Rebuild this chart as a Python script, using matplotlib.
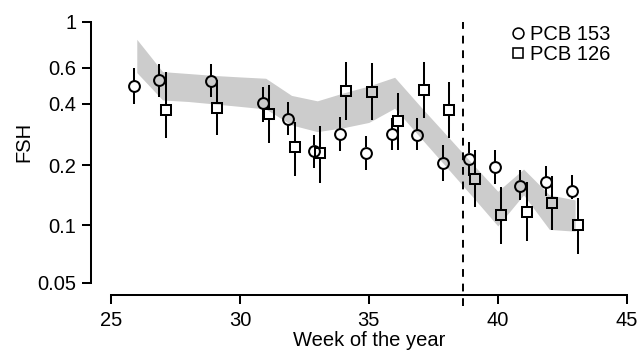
import numpy as np
import matplotlib
matplotlib.use("Agg")
import matplotlib.pyplot as plt
from matplotlib.lines import Line2D

plt.rcParams['font.family'] = ['Liberation Sans', 'DejaVu Sans']

# band (weeks 26-43)
band_weeks = [26, 27, 28, 29, 30, 31, 32, 33, 34, 35, 36, 37, 38, 39, 40, 41, 42, 43]
band_hi = [0.822, 0.573, 0.561, 0.549, 0.540, 0.532, 0.439, 0.413, 0.451, 0.488,
           0.538, 0.388, 0.282, 0.204, 0.148, 0.191, 0.142, 0.134]
band_lo = [0.567, 0.417, 0.410, 0.399, 0.388, 0.377, 0.315, 0.292, 0.305, 0.324,
           0.380, 0.273, 0.196, 0.140, 0.099, 0.142, 0.095, 0.093]

# PCB 153 (circles)
weeks153 = [26, 27, 29, 31, 32, 33, 34, 35, 36, 37, 38, 39, 40, 41, 42, 43]
pcb153 = [0.487, 0.520, 0.515, 0.402, 0.336, 0.235, 0.284, 0.230, 0.284, 0.281,
          0.204, 0.215, 0.195, 0.158, 0.164, 0.148]
lo153 = [0.398, 0.430, 0.433, 0.327, 0.282, 0.193, 0.235, 0.188, 0.237, 0.236,
         0.166, 0.177, 0.161, 0.134, 0.140, 0.135]
hi153 = [0.595, 0.622, 0.622, 0.484, 0.407, 0.282, 0.344, 0.279, 0.341, 0.340,
         0.251, 0.259, 0.236, 0.189, 0.198, 0.179]

# PCB 126 (squares)
weeks126 = [27, 29, 31, 32, 33, 34, 35, 36, 37, 38, 39, 40, 41, 42, 43]
pcb126 = [0.373, 0.383, 0.357, 0.246, 0.228, 0.461, 0.458, 0.330, 0.467, 0.373,
          0.171, 0.112, 0.116, 0.130, 0.0995]
lo126 = [0.271, 0.282, 0.258, 0.177, 0.163, 0.333, 0.333, 0.237, 0.340, 0.271,
         0.123, 0.080, 0.083, 0.094, 0.071]
hi126 = [0.573, 0.520, 0.494, 0.327, 0.312, 0.636, 0.629, 0.450, 0.636, 0.512,
         0.236, 0.155, 0.164, 0.177, 0.137]

change_week = 38.64
yticks = [0.05, 0.1, 0.2, 0.4, 0.6, 1]
ytick_labels = ['0.05', '0.1', '0.2', '0.4', '0.6', '1']
xticks = [25, 30, 35, 40, 45]

FS = 14.5
LW = 1.45
MS = 7.8
off = 0.12
c = 0.006

fig = plt.figure(figsize=(6.4, 3.51), dpi=100)
ax = fig.add_axes([111 / 640, 1 - 282.7 / 351, 515.7 / 640, 261 / 351])
ax.set_yscale('function', functions=(lambda v: np.log10(np.clip(v + c, 1e-6, None)),
                                     lambda u: 10 ** u - c))
ax.set_xlim(25, 45)
ax.set_ylim(0.05, 1)

ax.fill_between(band_weeks, band_lo, band_hi, color='#cccccc', lw=0, zorder=1)


def gapped_bars(x, y, lo, hi, gap):
    # vertical bars that stop at the marker edge
    inv = ax.transData.inverted()
    for xi, yi, l, h in zip(x, y, lo, hi):
        X, Y = ax.transData.transform((xi, yi))
        y_below = inv.transform((X, Y - gap))[1]
        y_above = inv.transform((X, Y + gap))[1]
        if l < y_below:
            ax.plot([xi, xi], [l, y_below], color='black', lw=LW,
                    solid_capstyle='butt', zorder=2)
        if h > y_above:
            ax.plot([xi, xi], [y_above, h], color='black', lw=LW,
                    solid_capstyle='butt', zorder=2)


x153 = np.array(weeks153) - off
x126 = np.array(weeks126) + off
gap = MS / 72 * 100 / 2
gapped_bars(x153, pcb153, lo153, hi153, gap)
gapped_bars(x126, pcb126, lo126, hi126, gap)

ax.plot(x153, pcb153, ls='none', marker='o', ms=MS, mfc='none', mec='black',
        mew=LW, zorder=3)
ax.plot(x126, pcb126, ls='none', marker='s', ms=MS, mfc='none', mec='black',
        mew=LW, zorder=3)

ax.axvline(change_week, ymin=-0.089, ymax=1, color='black', lw=1.4,
           dashes=(4, 3.5), clip_on=False, zorder=2)

for s in ['top', 'right']:
    ax.spines[s].set_visible(False)
ax.spines['left'].set_position(('outward', 20 * 0.72))
ax.spines['bottom'].set_position(('outward', 12.3 * 0.72))
ax.spines['left'].set_linewidth(LW)
ax.spines['bottom'].set_linewidth(LW)

ax.set_yticks(yticks)
ax.set_yticklabels(ytick_labels)
ax.yaxis.set_minor_locator(matplotlib.ticker.NullLocator())
ax.set_xticks(xticks)
ax.tick_params(axis='both', labelsize=FS, width=LW, length=6.5, color='black')
ax.tick_params(axis='y', pad=4)
ax.tick_params(axis='x', pad=5)

ax.set_ylabel('FSH', fontsize=FS)
ax.yaxis.set_label_coords(-0.150, 0.54)
ax.set_xlabel('Week of the year', fontsize=FS)
ax.xaxis.set_label_coords(0.5007, -0.185)

handles = [Line2D([], [], ls='none', marker='o', ms=MS, mfc='none', mec='black', mew=LW * 0.8),
           Line2D([], [], ls='none', marker='s', ms=MS, mfc='none', mec='black', mew=LW * 0.8)]
ax.legend(handles, ['PCB 153', 'PCB 126'], loc='upper left',
          bbox_to_anchor=(512.3 / 640, 1 - 25 / 351), bbox_transform=fig.transFigure,
          frameon=False, fontsize=FS, borderpad=0, borderaxespad=0,
          handlelength=0.6, handletextpad=0.28, labelspacing=0.05)

fig.savefig('out.png', dpi=100)
